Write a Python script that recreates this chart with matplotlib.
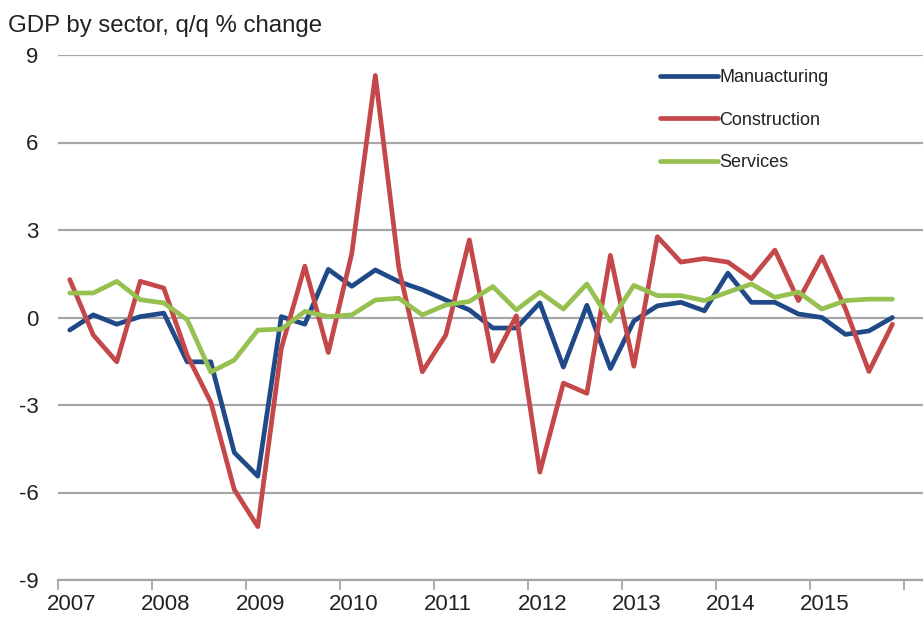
import matplotlib
matplotlib.use("Agg")
import matplotlib.pyplot as plt
import numpy as np

plt.rcParams['font.family'] = ['Liberation Sans', 'DejaVu Sans']

years = ["2007", "2008", "2009", "2010", "2011", "2012", "2013", "2014", "2015"]
quarters_per_year = 4

manufacturing = [-0.43, 0.09, -0.23, 0.03, 0.15, -1.52, -1.52, -4.63, -5.44, 0.03,
                 -0.23, 1.65, 1.07, 1.63, 1.23, 0.95, 0.60, 0.26, -0.36, -0.36,
                 0.50, -1.70, 0.42, -1.75, -0.12, 0.40, 0.52, 0.23, 1.52, 0.52,
                 0.52, 0.12, 0.00, -0.58, -0.46, 0.00]
construction = [1.30, -0.60, -1.52, 1.24, 1.01, -1.30, -2.90, -5.90, -7.17, -1.06,
                1.76, -1.20, 2.20, 8.30, 1.70, -1.86, -0.60, 2.66, -1.50, 0.06,
                -5.30, -2.25, -2.60, 2.13, -1.67, 2.77, 1.90, 2.02, 1.90, 1.33,
                2.31, 0.58, 2.08, 0.30, -1.85, -0.23]
services = [0.84, 0.84, 1.24, 0.61, 0.50, -0.08, -1.87, -1.46, -0.43, -0.40,
            0.21, 0.03, 0.09, 0.60, 0.66, 0.09, 0.43, 0.55, 1.06, 0.26,
            0.87, 0.29, 1.15, -0.12, 1.10, 0.75, 0.75, 0.58, 0.87, 1.15,
            0.69, 0.87, 0.29, 0.58, 0.63, 0.63]

series_names = ["Manuacturing", "Construction", "Services"]
series_colors = ["#1F4A87", "#C4484A", "#96C050"]
y_ticks = [9, 6, 3, 0, -3, -6, -9]

W, H = 923, 619
fig = plt.figure(figsize=(W / 100, H / 100), dpi=100)
ax = fig.add_axes([58 / W, (H - 580) / H, 1 - 58 / W, (580 - 55) / H])

x = np.arange(len(manufacturing))
for vals, name, col in zip([manufacturing, construction, services], series_names, series_colors):
    ax.plot(x, vals, color=col, lw=3.4, label=name, solid_joinstyle='round',
            solid_capstyle='round', zorder=3)

ax.set_ylim(-9, 9)
ax.set_xlim(-0.5, 36.3)
ax.set_yticks(y_ticks)
ax.set_yticklabels([str(t) for t in y_ticks])
ax.yaxis.grid(True, color="#A6A6A6", lw=1.6)
ax.set_axisbelow(True)

for s in ['top', 'right', 'left']:
    ax.spines[s].set_visible(False)
ax.spines['bottom'].set_color("#A6A6A6")
ax.spines['bottom'].set_linewidth(1.6)
ax.spines['bottom'].set_zorder(1)

ax.tick_params(axis='y', length=0, pad=14, labelsize=16, labelcolor="#222222")

n_years = len(years)
ax.set_xticks([k * quarters_per_year - 0.5 for k in range(n_years + 1)])
ax.set_xticklabels([])
ax.tick_params(axis='x', which='major', length=7, width=1.3, color="#A6A6A6", direction='out')
ax.set_xticks([k * quarters_per_year + 0.1 for k in range(n_years)], minor=True)
ax.set_xticklabels(years, minor=True)
ax.tick_params(axis='x', which='minor', length=0, pad=10, labelsize=16, labelcolor="#222222")

fig.text(8 / W, 1 - 32 / H, "GDP by sector, q/q % change", fontsize=17.3,
         color="#222222", va='baseline', ha='left')

leg = ax.legend(loc='upper left', bbox_to_anchor=(660 / W, 1 - 69 / H),
                bbox_transform=fig.transFigure, frameon=False, fontsize=13,
                handlelength=3.2, handletextpad=0.1, labelspacing=1.42,
                borderpad=0, borderaxespad=0)
for t in leg.get_texts():
    t.set_color("#222222")

fig.savefig("out.png", dpi=100)
